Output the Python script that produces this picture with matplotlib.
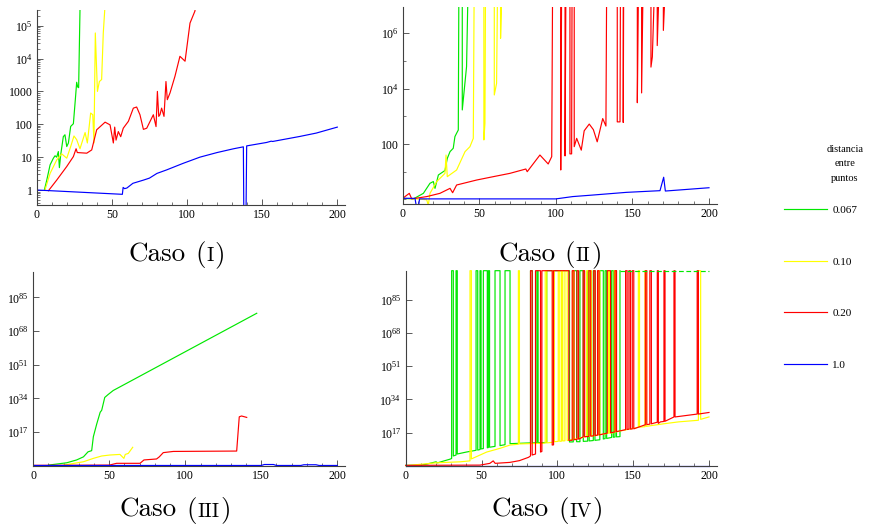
import matplotlib
matplotlib.use('Agg')
import matplotlib.pyplot as plt
from matplotlib.ticker import FixedLocator, NullFormatter, MultipleLocator

W, H = 873, 532
T = 1e100  # valor desbordado: se dibuja en el borde superior (caso IV)

plt.rcParams['font.family'] = ['Liberation Serif', 'DejaVu Serif']
plt.rcParams['mathtext.fontset'] = 'custom'
plt.rcParams['mathtext.rm'] = 'Liberation Serif'
plt.rcParams['mathtext.it'] = 'Liberation Serif:italic'

labels = ['0.067', '0.10', '0.20', '1.0']
colors = ['#00e800', '#ffff00', '#ff0000', '#0000ff']

# ---------------- Caso I ----------------
c1_green = [(5.1, 1), (6.7, 2.0), (8.9, 5.8), (11.1, 9.3), (12.2, 11), (13.3, 10),
            (14.4, 14.8), (15.1, 4.8), (16, 12), (17.7, 42), (18.8, 48), (20, 21),
            (21.1, 27), (22.6, 86), (24.4, 104), (25.7, 560), (26.6, 1900),
            (27.3, 1360), (27.9, 1300), (29, 1e6)]
c1_yellow = [(5.5, 1), (8.9, 3.2), (13.3, 8.2), (16.6, 12.6), (20, 9.3), (22.6, 21),
             (24.8, 44), (26.6, 34), (28.8, 18), (32.2, 56), (33.7, 27), (35.9, 220),
             (37.3, 195), (38.1, 27), (39, 6e4), (40.4, 1000), (41.7, 2000),
             (43.2, 2300), (44.3, 6e4), (46, 1e6)]
c1_red = [(7.8, 0.95), (13.3, 2.0), (20, 5.2), (24.4, 10.4), (26.2, 18), (27, 13.8),
          (33.3, 13.2), (36.6, 16.6), (39.9, 68), (45.5, 116), (48.8, 96), (51, 27),
          (51.9, 82), (52.8, 33), (54.3, 60), (55.9, 42), (57.6, 76), (61, 123),
          (64.3, 310), (66.5, 335), (68.7, 195), (71, 70), (73.2, 76), (77.6, 195),
          (79.4, 85), (80.3, 1000), (81.2, 174), (82, 195), (83.1, 310), (84.7, 174),
          (86, 2000), (86.9, 560), (88.7, 900), (92, 2900), (95.3, 11700),
          (98.7, 8300), (102, 1.2e5), (105.3, 2.8e5), (106, 1e6)]
c1_blue = [(0, 1), (57, 0.74), (57.5, 1.2), (58.5, 1.1), (60, 1.15), (64, 1.6),
           (71, 2.0), (75, 2.3), (80, 3.2), (86.5, 4.1), (97.5, 6.5), (108.6, 10),
           (120, 13.8), (131, 18), (137.5, 20.6), (138, 0.01), (139, 0.01),
           (139.7, 22), (153, 28), (156, 30.6), (157, 30), (175, 42.6), (186, 54),
           (200, 82)]

# ---------------- Caso II ----------------
c2_green = [(0, 1.09), (7, 1.04), (13.5, 1.65), (17.8, 3.8), (20, 4.4), (21.1, 2.5),
            (23.3, 7.6), (27.6, 11), (29.1, 30), (30.9, 53), (33, 70), (34.1, 185),
            (35.2, 245), (36.3, 320), (36.7, 1e8), (38.9, 1e8), (38.9, 1700),
            (41.7, 6.3e4), (42.8, 1e8)]
c2_yellow = [(0, 1.09), (9.1, 1.04), (15.7, 0.97), (16.7, 0.6), (17.8, 1.65),
             (22.2, 4.4), (27.6, 8.7), (28.3, 40), (29.1, 6.6), (35.2, 11.5),
             (40.7, 53), (43.9, 80), (46.1, 160), (46.7, 1e8), (53, 1e8), (53, 140),
             (53.7, 560), (54.1, 1e8), (59.8, 1e8), (59.8, 5900), (61.3, 1.55e4),
             (62, 1e8), (63.9, 1e8), (63.9, 6.6e5), (65, 1e8)]
c2_red = [(0, 1.09), (4.3, 1.65), (5.9, 1.04), (15.7, 1.26), (24.3, 1.65), (30.9, 2.5),
          (32.6, 1.74), (35.2, 3.3), (48.3, 5), (59.1, 6.6), (70, 8.7), (80.4, 12.5),
          (81.3, 10), (89.6, 40), (95, 19), (97.3, 35), (97.9, 1e8), (103.2, 1e8),
          (103.2, 11.5), (103.8, 1e8), (106, 1e8), (106, 37), (106.6, 1e8),
          (109.2, 1e8), (109.2, 44), (110.3, 44), (110.6, 1e8), (112, 1e8),
          (112, 80), (113.6, 160), (116.6, 60), (118.5, 300), (121.8, 525),
          (124.5, 330), (127, 120), (130.6, 830), (132.7, 445), (133.2, 1e8),
          (140.1, 1e8), (140.1, 630), (141.9, 630), (142.2, 1e8), (144, 1e8),
          (144, 600), (144.3, 1e8), (153.2, 1e8), (153.2, 3100), (154, 1e8),
          (156, 1e8), (156, 7000), (157, 1e8), (162.1, 1e8), (162.1, 6e4),
          (163, 1.4e5), (164.6, 1e8), (166.2, 1e8), (166.2, 3.6e5), (167.6, 1e8),
          (170.2, 1e8), (170.2, 1.27e6), (171.7, 1e8)]
c2_blue = [(0, 1.09), (8, 1.09), (9.1, 0.5), (10.2, 0.5), (11, 1.04), (100, 1.04),
           (111, 1.26), (124, 1.43), (146, 1.79), (168, 2.06), (170.4, 6.3),
           (171.5, 2.0), (200, 2.63)]

# ---------------- Caso III ----------------
c3_green = [(10, 2), (22, 30), (28.5, 8e2), (33, 3e4), (36, 1e7), (38.4, 4e7),
            (39.5, 4e14), (41.7, 1e21), (44, 1e27), (45, 1e28), (47, 3e34),
            (49.3, 1e36), (52.6, 1e38), (147, 1e77)]
c3_yellow = [(20, 2), (33, 1e2), (39.5, 5e3), (45, 8e4), (50.4, 2.5e5), (57, 5e5),
             (59.6, 5e3), (60.5, 5e5), (62.5, 1.6e6), (65.4, 2e9)]
c3_red = [(0, 1.5), (50, 2), (54.8, 16), (70.2, 16), (72.8, 8e2), (81.1, 2.5e3),
          (82.9, 3e4), (85.5, 4e6), (92.1, 1.6e7), (133.8, 2.5e7), (135.5, 5e24),
          (137, 1.3e25), (140.4, 2.5e24)]
c3_blue = [(0, 1.3), (150, 1.3), (152, 4), (158, 4), (160, 1.3), (176, 1.3),
           (178, 3), (186, 3), (188, 1.3), (200, 1.3)]

# ---------------- Caso IV ----------------
c4_green = [(0, 1.5), (10, 2), (14, 7), (20, 1e2), (21, 30), (29, 2e3), (30.3, 5e3),
            (30.3, T), (31.4, T), (31.4, 1e5), (33.2, 3e5), (33.2, T), (34.0, T),
            (34.0, 1e6), (40, 1e7), (46.4, 8e7), (46.4, T), (47.5, T), (47.5, 1e8),
            (49.0, 2e8), (49.0, T), (49.7, T), (49.7, 4e8), (51.2, 6e8), (51.2, T),
            (53.8, T), (53.8, 1.5e9), (54.5, 2e9), (54.5, T), (55.3, T), (55.3, 3e9),
            (58.9, 8e9), (58.9, T), (62.2, T), (62.2, 2e10), (65.5, 6e10), (65.5, T),
            (68.8, T), (68.8, 2e11), (82.3, 5e11), (82.3, T), (83.5, T), (83.5, 5e11),
            (86.5, 6e11), (86.5, T), (87.3, T), (87.3, 6e11), (93, 8e11), (93, T),
            (108, T), (108, 1.5e12), (110.5, 1.6e12), (110.5, T), (112.7, T),
            (112.7, 2e12), (114.9, 2e12), (114.9, T), (117.1, T), (117.1, 3e12),
            (120, 4e12), (120, T), (121, T), (121, 5e12), (123.7, 8e12), (123.7, T),
            (124.8, T), (124.8, 1e13), (128, 2e13), (128, T), (130.3, T), (130.3, 5e13),
            (131.5, 8e13), (131.5, T), (132.5, T), (132.5, 1e14), (135.8, 3e14),
            (135.8, T), (136.9, T), (136.9, 4e14), (138, 5e14), (138, T), (139, T),
            (139, 6e14), (141.3, 8e14), (141.3, T)]
c4_green_top = [(141.3, T), (200, T)]
c4_yellow = [(0, 1), (20, 30), (36, 1e2), (42.4, 3e2), (42.4, T), (43.3, T),
             (43.3, 3e3), (53.4, 1e7), (62.2, 8e8), (68.8, 4e10), (74.3, 1e11),
             (74.3, T), (75, T), (75, 1.5e11), (90, 3e11), (92, 4e11), (92, T),
             (93, T), (93, 5e11), (97, 1e12), (97, T), (98, T), (98, 2e12),
             (100.6, 3e12), (100.6, T), (101.6, T), (101.6, 3e12), (102.8, 4e12),
             (102.8, T), (103.6, T), (103.6, 5e12), (105, 6e12), (105, T), (106.5, T),
             (106.5, 8e12), (110, 3e13), (110, T), (111, T), (111, 4e13),
             (119.3, 1e15), (119.3, T), (120.3, T), (120.3, 1e15), (121.5, 1.2e15),
             (121.5, T), (122.5, T), (122.5, 1.5e15), (127, 5e15), (127, T),
             (128, T), (128, 8e15), (133.6, 4e16), (133.6, T), (134.4, T),
             (134.4, 5e16), (137.5, 1e17), (137.5, T), (138.3, T), (138.3, 2e17),
             (153.4, 5e19), (153.4, T), (154.2, T), (154.2, 6e19), (157.8, 1e20),
             (157.8, T), (158.6, T), (158.6, 1.5e20), (170, 3e21), (180, 3e22),
             (193, 2e23), (193, T), (194.5, T), (194.5, 6e23), (200, 1e25)]
c4_red = [(0, 1.5), (49, 2), (55.5, 16), (57.7, 3e2), (59, 16), (68.7, 50), (75, 4e2),
          (81, 2e4), (82.3, 1e5), (82.3, T), (83.4, T), (83.4, 3e5), (85.6, 1e6),
          (85.6, T), (88.9, T), (88.9, 1e7), (89.8, 2e7), (89.8, T), (96.6, T),
          (96.6, 4e10), (97.5, 5e10), (97.5, T), (107.6, T), (107.6, 1e13),
          (109.8, 1e13), (109.8, T), (111, T), (111, 2e13), (113, 3e13), (113, T),
          (114, T), (114, 4e13), (117, 6e14), (117, T), (118, T), (118, 7e14),
          (120.8, 1e15), (120.8, T), (122, T), (122, 1.5e15), (124, 2e15), (124, T),
          (125, T), (125, 3e15), (126.5, 5e15), (126.5, T), (127.5, T), (127.5, 6e15),
          (132.9, 5e16), (132.9, T), (135.1, T), (135.1, 8e16), (138, 2e17), (138, T),
          (139, T), (139, 3e17), (145, 3e18), (145, T), (146, T), (146, 4e18),
          (147.2, 5e18), (147.2, T), (148.2, T), (148.2, 6e18), (149.4, 7e18),
          (149.4, T), (150.4, T), (150.4, 8e18), (158, 1e21), (158, T), (159, T),
          (159, 1.2e21), (161, 2e21), (161, T), (162, T), (162, 3e21), (165.9, 2e22),
          (165.9, T), (166.6, T), (166.6, 5e21), (168, 3e22), (170.3, 5e22),
          (170.3, T), (171, T), (171, 6e22), (176.9, 1e25), (176.9, T), (177.6, T),
          (177.6, 1e25), (192.2, 3e26), (192.2, T), (193, T), (193, 3e26),
          (200, 2e27)]
c4_blue = [(0, 1.2), (200, 1.2)]

fig = plt.figure(figsize=(W / 100, H / 100), dpi=100)


def px_axes(x0, unit, y_bottom, y_top):
    # ejes colocados en pixeles de la figura; x va de 0 a 205
    x1 = x0 + 205 * unit
    return fig.add_axes([x0 / W, 1 - y_bottom / H, (x1 - x0) / W, (y_bottom - y_top) / H])


def style(ax, ylim, yticks, ylabels, yminor=None):
    ax.set_yscale('log')
    ax.set_xlim(0, 205)
    ax.set_ylim(*ylim)
    for s in ['top', 'right']:
        ax.spines[s].set_visible(False)
    for s in ['left', 'bottom']:
        ax.spines[s].set_color('#404040')
        ax.spines[s].set_linewidth(0.8)
    ax.xaxis.set_major_locator(FixedLocator([0, 50, 100, 150, 200]))
    ax.xaxis.set_minor_locator(MultipleLocator(10))
    ax.yaxis.set_major_locator(FixedLocator(yticks))
    ax.set_yticklabels(ylabels)
    ax.yaxis.set_minor_locator(FixedLocator(yminor if yminor is not None else []))
    ax.yaxis.set_minor_formatter(NullFormatter())
    ax.tick_params(which='major', direction='in', length=4, width=0.6,
                   color='#404040', labelsize=8.5, pad=3)
    ax.tick_params(which='minor', direction='in', length=2, width=0.5, color='#404040')
    ax.patch.set_alpha(0)


def draw(ax, series, clip=True):
    out = []
    for pts, c in zip(series, colors):
        xs, ys = zip(*pts)
        ln, = ax.plot(xs, ys, color=c, lw=0.85, clip_on=clip)
        out.append(ln)
    return out


ax1 = px_axes(36.7, 1.503, 205, 10)
ax2 = px_axes(402.7, 1.5315, 204, 7)
ax3 = px_axes(33.3, 1.52, 465.7, 271.7)
ax4 = px_axes(405.7, 1.5165, 465.7, 270.7)

handles = draw(ax1, [c1_green, c1_yellow, c1_red, c1_blue])
draw(ax2, [c2_green, c2_yellow, c2_red, c2_blue])
draw(ax3, [c3_green, c3_yellow, c3_red, c3_blue])
draw(ax4, [c4_green, c4_yellow, c4_red, c4_blue], clip=False)
gx, gy = zip(*c4_green_top)
ax4.plot(gx, gy, color=colors[0], lw=0.85, ls=(0, (4, 2.2)), clip_on=False)

minor1 = [m * 10.0 ** e for e in range(-1, 6) for m in range(2, 10)]
style(ax1, (0.35, 3e5), [1, 10, 100, 1000, 1e4, 1e5],
      ['1', '10', '100', '1000', '$10^{4}$', '$10^{5}$'], minor1)
style(ax2, (0.68, 8.9e6), [100, 1e4, 1e6], ['100', '$10^{4}$', '$10^{6}$'],
      [1, 10, 1000, 1e5])
big = [1e17, 1e34, 1e51, 1e68, 1e85]
big_labels = ['$10^{17}$', '$10^{34}$', '$10^{51}$', '$10^{68}$', '$10^{85}$']
style(ax3, (1, 1e98), big, big_labels)
style(ax4, (1, 1e100), big, big_labels)

# leyenda
fig.text(845 / W, 1 - 164 / H, 'distancia\nentre\npuntos', ha='center', va='center',
         fontsize=7.5, linespacing=1.85)
fig.legend(handles, labels, loc='upper left', bbox_to_anchor=(784 / W, 1 - 205 / H),
           frameon=False, fontsize=8, handlelength=3.9, handletextpad=0.45,
           labelspacing=3.78, borderpad=0, borderaxespad=0)

# titulos "Caso (I)" con versalitas simuladas
renderer = fig.canvas.get_renderer()


def caption(cx, base_y, numeral):
    pieces = [('Caso', 19.5), ('(', 19.5), (numeral, 14.5), (')', 19.5)]
    gaps = [9.5, 0.5, 0.8, 0]
    texts = []
    total = 0
    for (s, fs), g in zip(pieces, gaps):
        t = fig.text(0, 1 - base_y / H, s, fontsize=fs, family='cmr10',
                     ha='left', va='baseline')
        w = t.get_window_extent(renderer).width
        texts.append((t, w, g))
        total += w + g
    x = cx - total / 2
    for t, w, g in texts:
        t.set_x(x / W)
        x += w + g


caption(176.7, 261, 'I')
caption(550, 261, 'II')
caption(175, 516.7, 'III')
caption(547.5, 516.7, 'IV')

fig.savefig('out.png', dpi=100)
